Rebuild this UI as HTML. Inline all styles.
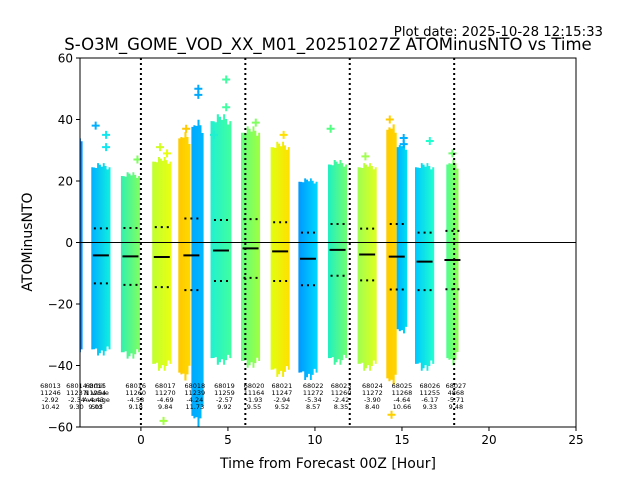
<!DOCTYPE html>
<html><head><meta charset="utf-8"><style>
body{margin:0;background:#fff;}
svg text{font-family:"DejaVu Sans","Liberation Sans",sans-serif;}
</style></head><body>
<svg id="chart" width="640" height="480" xmlns="http://www.w3.org/2000/svg">
<defs id="defs"></defs>
<text x="603" y="36" font-size="13.3" text-anchor="end">Plot date: 2025-10-28 12:15:33</text>
<text x="328" y="50" font-size="16.5" text-anchor="middle">S-O3M_GOME_VOD_XX_M01_20251027Z ATOMinusNTO vs Time</text>
<g id="plot"></g>
<g id="axes"></g>
<text x="328" y="468" font-size="14" text-anchor="middle">Time from Forecast 00Z [Hour]</text>
<text x="32" y="242" font-size="14" text-anchor="middle" transform="rotate(-90 32 242)">ATOMinusNTO</text>
</svg>
<script>
const centers=[-3.45,-2.3,-0.6,1.2,2.5,3.25,4.6,6.3,8.0,9.6,11.3,13.0,14.4,15.0,16.3,17.9];
const halfWidths=[0.1,0.55,0.55,0.55,0.35,0.35,0.6,0.55,0.55,0.55,0.55,0.55,0.3,0.3,0.55,0.35];
const tops=[36,26,23,28,36,40,42,38,33,21,27,26,39,33,26,27];
const bottoms=[-38,-37,-38,-42,-45,-60,-40,-41,-44,-45,-40,-42,-47,-30,-42,-40];
const colorsA=["#0060ff","#00b0ff","#30f0b0","#c0ff30","#ffc800","#00a8ff","#20f0d0","#60ff80","#e0ff10","#0098ff","#20f0c0","#a0ff50","#ffcc00","#00b0ff","#00c8ff","#50ff90"];
const colorsB=["#00a0ff","#10f0e0","#80ff60","#e8ff10","#ffd800","#00b8ff","#40ffa0","#a0ff40","#ffe000","#00d8ff","#70ff70","#e0ff20","#ffd400","#00e0f0","#20ffd0","#90ff50"];
const statX=[-2.3,-0.6,1.2,2.9,4.6,6.3,8.0,9.6,11.3,13.0,14.7,16.3,17.9];
const means=[-4.2,-4.5,-4.7,-4.2,-2.6,-1.9,-2.9,-5.3,-2.4,-3.9,-4.6,-6.2,-5.7];
const stdUp=[4.6,4.7,5.0,7.8,7.3,7.6,6.6,3.2,6.0,4.5,6.0,3.2,3.8];
const stdDn=[-13.3,-13.8,-14.5,-15.5,-12.5,-11.5,-12.5,-13.9,-10.8,-12.3,-15.3,-15.5,-15.2];
const outX=[-2.6,-2.0,-2.0,-0.2,1.1,1.5,2.6,3.3,3.3,4.9,4.9,4.2,6.6,8.2,10.9,12.9,14.3,15.1,15.1,16.6,17.9,1.3,14.4];
const outY=[38,35,31,27,31,29,37,50,48,53,44,35,39,35,37,28,40,34,32,33,29,-58,-56];
const outC=["#00b0ff","#10e8f0","#10e8f0","#80ff60","#d0ff20","#e8ff10","#ffc800","#00a8ff","#00a8ff","#40ffa0","#40ffa0","#20f0d0","#80ff60","#ffe000","#50ff80","#a0ff50","#ffcc00","#00b0ff","#00b0ff","#20ffd0","#70ff70","#a0ff40","#ffd000"];
const orbits=["68013","68014","68015","68016","68017","68018","68019","68020","68021","68022","68023","68024","68025","68026","68027"];
const nvals=["11246","11237","11254","11260","11270","11239","11259","11164","11247","11272","11260","11272","11268","11255","4868"];
const avgs=["-2.92","-2.34","-4.43","-4.58","-4.69","-4.24","-2.57","-1.93","-2.94","-5.34","-2.42","-3.90","-4.64","-6.17","-5.71"];
const stds=["10.42","9.30","9.03","9.18","9.84","11.73","9.92","9.55","9.52","8.57","8.35","8.40","10.66","9.33","9.48"];
const annX=[-5.2,-3.7,-2.6,-0.3,1.4,3.1,4.8,6.5,8.1,9.9,11.5,13.3,15.0,16.6,18.1];
const vlines=[0,6,12,18];
const xTicks=[0,5,10,15,20,25];
const yTicks=[-60,-40,-20,0,20,40,60];

const X0=80,X1=576,Y0=58,Y1=427,xmin=-3.5,xmax=25,ymin=-60,ymax=60;
const sx=v=>X0+(v-xmin)/(xmax-xmin)*(X1-X0);
const sy=v=>Y1-(v-ymin)/(ymax-ymin)*(Y1-Y0);
const NS="http://www.w3.org/2000/svg";
const plot=document.getElementById('plot'),axes=document.getElementById('axes'),defs=document.getElementById('defs');
function mk(t,a,p){const e=document.createElementNS(NS,t);for(const k in a)e.setAttribute(k,a[k]);(p||plot).appendChild(e);return e;}
const clip=mk('clipPath',{id:'pc'},defs);mk('rect',{x:X0,y:Y0,width:X1-X0,height:Y1-Y0},clip);
const cg=mk('g',{'clip-path':'url(#pc)'});
centers.forEach((c,i)=>{
  const g=mk('linearGradient',{id:'g'+i,x1:'0',x2:'1',y1:'0',y2:'0'},defs);
  mk('stop',{offset:'0','stop-color':colorsA[i]},g);mk('stop',{offset:'1','stop-color':colorsB[i]},g);
  const xl=sx(c-halfWidths[i]),xr=sx(c+halfWidths[i]);
  const n=Math.max(1,Math.round((xr-xl)/2));
  let top=[],bot=[];
  for(let k=0;k<n;k++){const r=(k/(n-1||1))*2-1;const f=1-0.06*r*r-0.05*((k*7)%3)/2;
    const xa=xl+(xr-xl)*k/n,xb=xl+(xr-xl)*(k+1)/n;
    top.push([xa,sy(tops[i]*f)],[xb,sy(tops[i]*f)]);bot.push([xa,sy(bottoms[i]*f)],[xb,sy(bottoms[i]*f)]);}
  const pts=top.concat(bot.reverse()).map(p=>p[0].toFixed(1)+','+p[1].toFixed(1)).join(' ');
  const cl=mk('polygon',{points:pts,fill:'url(#g'+i+')'},cg);
  
  
});
outX.forEach((x,i)=>{
  const px=sx(x),py=sy(outY[i]);
  const o=mk('path',{d:`M${px-4},${py}H${px+4}M${px},${py-4}V${py+4}`,stroke:outC[i],'stroke-width':2},cg);
  
  
});
vlines.forEach(v=>{const l=mk('line',{x1:sx(v),x2:sx(v),y1:Y0,y2:Y1,stroke:'#000','stroke-width':2,'stroke-dasharray':'2,3'});
  
  });
const zl=mk('line',{x1:X0,x2:X1,y1:sy(0),y2:sy(0),stroke:'#000','stroke-width':1});


statX.forEach((x,i)=>{
  const px=sx(x);
  const m=mk('line',{x1:px-8,x2:px+8,y1:sy(means[i]),y2:sy(means[i]),stroke:'#000','stroke-width':2});
  
  
  [stdUp[i],stdDn[i]].forEach(s=>{const d=mk('line',{x1:px-7,x2:px+8,y1:sy(s),y2:sy(s),stroke:'#000','stroke-width':2,'stroke-dasharray':'2,4'});
    
    });
});
const lab=mk('g',{'font-size':'6.5','text-anchor':'middle'});
const lx=sx(-2.55);
["Orbit","N Value","Average","Std"].forEach((t,r)=>{const e=mk('text',{x:lx,y:388+r*7},lab);e.textContent=t;
  
  });
orbits.forEach((o,i)=>{const px=sx(annX[i]);
  [o,nvals[i],avgs[i],stds[i]].forEach((t,r)=>{const e=mk('text',{x:px,y:388+r*7},lab);e.textContent=t;
    
    });});
mk('rect',{x:X0,y:Y0,width:X1-X0,height:Y1-Y0,fill:'none',stroke:'#000','stroke-width':1},axes);
xTicks.forEach(v=>{const px=sx(v);mk('line',{x1:px,x2:px,y1:Y1,y2:Y1+4,stroke:'#000'},axes);
  const t=mk('text',{x:px,y:Y1+17,'font-size':12,'text-anchor':'middle'},axes);t.textContent=v;
  
  });
yTicks.forEach(v=>{const py=sy(v);mk('line',{x1:X0-4,x2:X0,y1:py,y2:py,stroke:'#000'},axes);
  const t=mk('text',{x:X0-7,y:py+4.5,'font-size':12,'text-anchor':'end'},axes);t.textContent=v<0?'\u2212'+(-v):v;
  
  });
</script>
</body></html>
